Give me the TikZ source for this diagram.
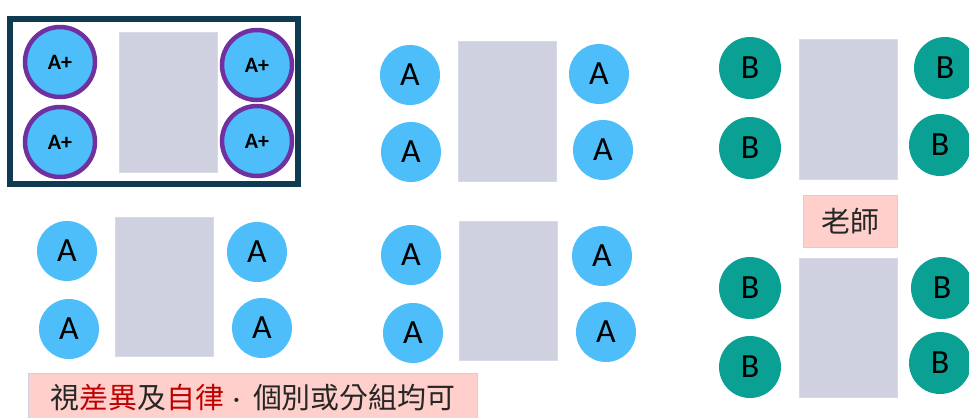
\documentclass[tikz,border=0pt]{standalone}
\usepackage{fontspec}
\setmainfont{Carlito}
\newfontfamily\cjk{Noto Sans CJK TC}
\definecolor{seatA}{HTML}{4DBEFA}
\definecolor{seatB}{HTML}{0AA094}
\definecolor{ringc}{HTML}{7030A0}
\definecolor{deskc}{HTML}{CFD1E1}
\definecolor{notec}{HTML}{FFD0CB}
\definecolor{framec}{HTML}{0E3A52}
\definecolor{hl}{HTML}{C00000}
\definecolor{txt}{HTML}{262626}
\tikzset{
  seata/.style={circle, fill=seatA, inner sep=0pt, minimum size=60bp, font=\fontsize{34}{35}\selectfont, text=black},
  seatb/.style={circle, fill=seatB, inner sep=0pt, minimum size=62bp, font=\fontsize{34}{35}\selectfont, text=black},
  seatplus/.style={circle, fill=seatA, draw=ringc, line width=4.5bp, inner sep=0pt, minimum size=70bp, font=\bfseries\fontsize{22}{23}\selectfont, text=black},
  deskbox/.style={rectangle, fill=deskc, draw=deskc!80!white, line width=0.6bp, inner sep=0pt, minimum width=98bp, minimum height=139bp},
  notebox/.style={rectangle, fill=notec, draw=deskc, line width=1bp, inner sep=0pt, font=\cjk\fontsize{29}{30}\selectfont, text=txt},
  framebox/.style={draw=framec, line width=5.5bp}
}
\begin{document}
\begin{tikzpicture}[x=1bp,y=-1bp]
\useasboundingbox (0,0) rectangle (969,417);
\clip (0,0) rectangle (969,417);
\fill[white] (0,0) rectangle (969,417);
% group 1 (framed)
\draw[framebox] (10,19) rectangle (298,184);
\node[deskbox, minimum height=140bp] (d1) at (168,102) {};
\node[seatplus] (p1) at (60,62) {A+};
\node[seatplus] (p2) at (60,142) {A+};
\node[seatplus] (p3) at (257,65) {A+};
\node[seatplus] (p4) at (257,141) {A+};
% group 2
\node[deskbox, minimum height=140bp] (d2) at (507,111) {};
\node[seata] (a21) at (410,75) {A};
\node[seata] (a22) at (411,152) {A};
\node[seata] (a23) at (599,74) {A};
\node[seata] (a24) at (603,150) {A};
% group 3
\node[deskbox, minimum height=140bp] (d3) at (848,109) {};
\node[seatb] (b31) at (750,68) {B};
\node[seatb] (b32) at (750,148) {B};
\node[seatb] (b33) at (945,68) {B};
\node[seatb] (b34) at (940,145) {B};
% teacher
\node[notebox, minimum width=94bp, minimum height=52bp] (t) at (850,221) {老師};
% group 4
\node[deskbox] (d4) at (164.5,286.5) {};
\node[seata] (a41) at (67,251) {A};
\node[seata] (a42) at (69,329) {A};
\node[seata] (a43) at (257,252) {A};
\node[seata] (a44) at (262,328) {A};
% group 5
\node[deskbox] (d5) at (508.5,290.5) {};
\node[seata] (a51) at (411,255) {A};
\node[seata] (a52) at (413,333) {A};
\node[seata] (a53) at (602,256) {A};
\node[seata] (a54) at (606,332) {A};
% group 6
\node[deskbox] (d6) at (848,328) {};
\node[seatb] (b61) at (750,288) {B};
\node[seatb] (b62) at (750,367) {B};
\node[seatb] (b63) at (942,288) {B};
\node[seatb] (b64) at (940,363) {B};
% note
\node[notebox, minimum width=448bp, minimum height=50bp] (n) at (253,398) {視\textcolor{hl}{差異}及\textcolor{hl}{自律}\makebox[1em][l]{\hspace*{0.3em}{\rmfamily·}}個別或分組均可};
\end{tikzpicture}
\end{document}
